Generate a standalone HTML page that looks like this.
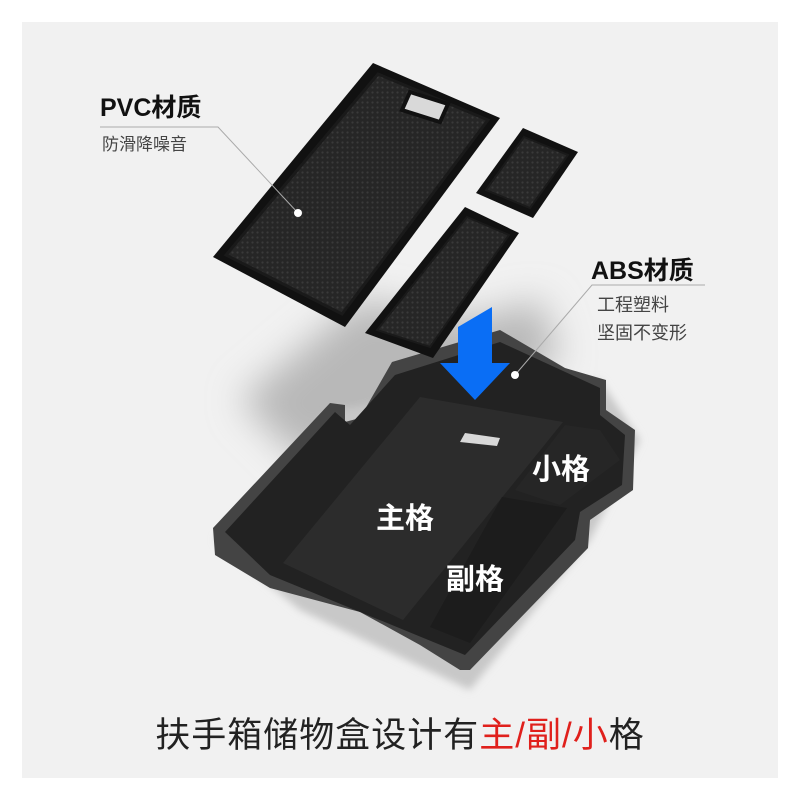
<!DOCTYPE html>
<html><head><meta charset="utf-8"><style>
body{margin:0;width:800px;height:800px;background:#fff;overflow:hidden}
svg{display:block}
text{font-family:"Liberation Sans","Noto Sans CJK SC",sans-serif}
</style></head><body>
<svg width="800" height="800" viewBox="0 0 800 800">
<defs>
<filter id="b" x="-50%" y="-50%" width="200%" height="200%"><feGaussianBlur stdDeviation="18"/></filter>
<filter id="b2"><feGaussianBlur stdDeviation="4"/></filter>
<pattern id="dots" width="5" height="5" patternUnits="userSpaceOnUse"><rect width="5" height="5" fill="#262626"/><circle cx="2.5" cy="2.5" r="1.1" fill="#3a3a3a"/></pattern>
</defs>
<rect x="22" y="22" width="756" height="756" fill="#f1f1f1"/>
<polygon points="240,400 360,300 470,320 540,300 560,360 420,420 300,460" fill="#b8b8b8" filter="url(#b)"/>
<polygon points="215,540 330,410 600,380 640,440 590,540 470,690 300,610" fill="#c8c8c8" filter="url(#b2)"/>
<polygon points="213,528 330,403 345,405 345,422 360,418 392,362 500,330 565,368 606,380 606,410 635,430 633,490 590,520 588,548 470,670 460,670 420,645 360,612 270,588 215,555" fill="#444"/>
<polygon points="225,532 335,412 350,425 395,375 500,342 600,388 600,415 625,435 622,485 580,512 575,540 465,655 270,575" fill="#222"/>
<polygon points="420,397 563,422 403,620 283,563" fill="#2c2c2c"/>
<polygon points="465,433 500,438 497,446 460,442" fill="#d8d8d8"/>
<polygon points="502,497 567,508 470,643 430,627" fill="#1c1c1c"/>
<polygon points="565,425 600,430 620,460 560,505 515,490" fill="#262626"/>
<polygon points="373,63 500,118 345,327 213,257" fill="#111"/>
<polygon points="378,74 488,120 342,314 226,255" fill="url(#dots)" stroke="#1a1a1a" stroke-width="3"/>
<polygon points="410,92 448,104 440,122 402,110" fill="#d9d9d9" stroke="#111" stroke-width="4"/>
<polygon points="523,128 578,152 533,218 476,193" fill="#111"/>
<polygon points="524,137 568,155 530,208 486,190" fill="url(#dots)" stroke="#1a1a1a" stroke-width="2"/>
<polygon points="465,207 519,233 433,358 365,333" fill="#111"/>
<polygon points="467,217 509,235 430,347 377,330" fill="url(#dots)" stroke="#1a1a1a" stroke-width="2"/>
<polygon points="458,327 492,307 492,363 510,363 475,400 440,363 458,363" fill="#0a6ef5"/>
<polyline points="100,127 218,127 298,213" fill="none" stroke="#aaa" stroke-width="1"/>
<circle cx="298" cy="213" r="4" fill="#fff"/>
<polyline points="705,285 592,285 515,375" fill="none" stroke="#aaa" stroke-width="1"/>
<circle cx="515" cy="375" r="4" fill="#fff"/>
<text x="100" y="116" font-size="25" font-weight="bold" fill="#111">PVC材质</text>
<text x="102" y="150" font-size="17" fill="#444">防滑降噪音</text>
<text x="591" y="279" font-size="25" font-weight="bold" fill="#111">ABS材质</text>
<text x="597" y="311" font-size="18" fill="#444">工程塑料</text>
<text x="597" y="339" font-size="18" fill="#444">坚固不变形</text>
<text x="376" y="528" font-size="29" font-weight="bold" fill="#fff">主格</text>
<text x="532" y="479" font-size="29" font-weight="bold" fill="#fff">小格</text>
<text x="446" y="589" font-size="29" font-weight="bold" fill="#fff">副格</text>
<text x="400" y="747" font-size="35" fill="#222" text-anchor="middle" letter-spacing="1">扶手箱储物盒设计有<tspan fill="#e0201c">主/副/小</tspan>格</text>
</svg>
</body></html>
